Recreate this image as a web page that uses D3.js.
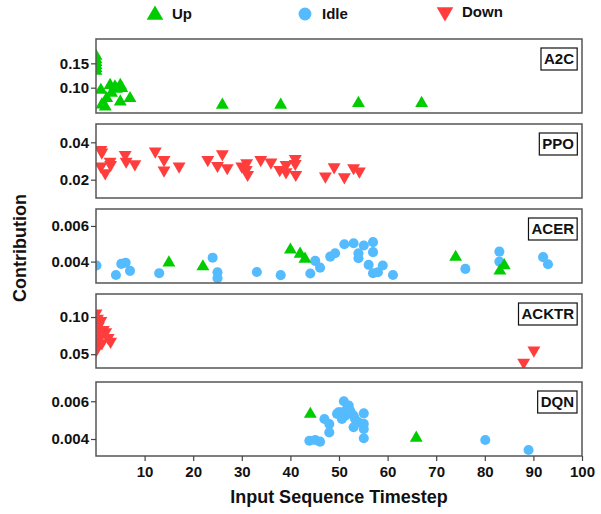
<!DOCTYPE html>
<html>
<head>
<meta charset="utf-8">
<script src="https://cdn.jsdelivr.net/npm/d3@7"></script>
<style>
  body { margin: 0; background: #fff; }
  svg text { font-family: "Liberation Sans", Arial, sans-serif; font-weight: bold; fill: #111; }
</style>
</head>
<body>
<svg id="chart" width="601" height="514"></svg>
<script>
// ---- data ----
let panelNames = ["A2C", "PPO", "ACER", "ACKTR", "DQN"];
let yDomains = [[0.048, 0.2], [0.0102, 0.0498], [0.0028, 0.00695], [0.0314, 0.131], [0.0031, 0.00702]];
let yTicks = [[0.10, 0.15], [0.02, 0.04], [0.004, 0.006], [0.05, 0.10], [0.004, 0.006]];
let xTicks = [10, 20, 30, 40, 50, 60, 70, 80, 90, 100];
let legendItems = ["Up", "Idle", "Down"];

// [timestep, contribution]
let a2cUp = [
  [0, 0.165], [0, 0.158], [0, 0.152], [0, 0.146], [0, 0.14], [0, 0.134],
  [1, 0.095], [1.2, 0.065], [1.9, 0.061], [2.2, 0.078], [2.9, 0.105], [3.2, 0.089],
  [3.9, 0.102], [4.2, 0.097], [5, 0.105], [5, 0.071], [5.3, 0.099], [7, 0.078],
  [26, 0.0645], [38, 0.0645], [54, 0.068], [67, 0.068]
];
let ppoDown = [
  [1, 0.036], [1.2, 0.0347], [1, 0.0272], [1.9, 0.0236], [2.9, 0.0298], [3, 0.028],
  [6, 0.0334], [6.2, 0.0298], [8, 0.0284], [12.2, 0.0352], [14, 0.0307], [14, 0.025],
  [17.1, 0.0272], [23, 0.0307], [25, 0.0275], [26, 0.0337], [27, 0.0263], [30, 0.0272],
  [31, 0.0289], [30.9, 0.0253], [31.2, 0.0227], [33.9, 0.0307], [36, 0.0293], [37.8, 0.0253],
  [39.1, 0.028], [39.1, 0.0241], [41, 0.0312], [41, 0.0286], [41.1, 0.0227], [47.2, 0.0218],
  [49, 0.0268], [51.1, 0.0214], [53, 0.0263], [54.2, 0.0245]
];
let acerIdle = [
  [0.1, 0.00378], [4.1, 0.00325], [5.2, 0.00387], [6.1, 0.00394], [7, 0.00348], [13, 0.00335],
  [24, 0.00422], [25, 0.0034], [25, 0.00307], [33.1, 0.00342], [38, 0.00324], [44.1, 0.00333],
  [45.1, 0.00404], [46.1, 0.00366], [48.2, 0.00428], [49.2, 0.00447], [51.1, 0.00497],
  [53, 0.00503], [54, 0.00447], [54, 0.00419], [55.1, 0.0049], [56.1, 0.00382], [57, 0.00509],
  [57, 0.00453], [57, 0.00335], [58, 0.0034], [59, 0.00378], [61.1, 0.00325], [76, 0.00359],
  [83, 0.00456], [83, 0.004], [92, 0.00425], [93, 0.00385]
];
let acerUp = [
  [15, 0.00394], [22, 0.00372], [40, 0.00466], [42, 0.00443], [43, 0.00415],
  [74, 0.00425], [83.1, 0.00348], [84, 0.00378]
];
let acktrDown = [
  [0, 0.105], [0.3, 0.098], [0, 0.092], [0.5, 0.088], [1, 0.095], [1.5, 0.083],
  [0.2, 0.078], [2, 0.08], [0.8, 0.072], [0, 0.066], [2.5, 0.072], [0.3, 0.06],
  [0, 0.055], [3, 0.067], [1.2, 0.065], [88, 0.039], [90.1, 0.0553]
];
let dqnIdle = [
  [43.9, 0.00391], [45.1, 0.00395], [46.1, 0.00386], [47, 0.00506], [48, 0.00479], [48, 0.00435],
  [49.9, 0.00542], [51, 0.006], [52, 0.00577], [50.3, 0.00542], [51.3, 0.00524], [52.3, 0.0055],
  [53, 0.00524], [50.6, 0.00506], [51.6, 0.00558], [53, 0.00462], [54, 0.00489], [55.1, 0.00536],
  [55.1, 0.0048], [55.1, 0.00453], [55.1, 0.00404], [49.6, 0.00533], [53.3, 0.00506],
  [80.1, 0.00395], [89, 0.00342]
];
let dqnUp = [[44.1, 0.00532], [65.9, 0.00405]];

let panelSeries = [
  [{ kind: "Up", data: a2cUp }],
  [{ kind: "Down", data: ppoDown }],
  [{ kind: "Idle", data: acerIdle }, { kind: "Up", data: acerUp }],
  [{ kind: "Down", data: acktrDown }],
  [{ kind: "Idle", data: dqnIdle }, { kind: "Up", data: dqnUp }]
];

// ---- styles ----
let colors = { Up: "#00cc00", Idle: "#55bbff", Down: "#ff3d3d" };
let left = 96, right = 582, panelH = 74;
let panelTops = [39, 124, 209, 294, 382];

let svg = d3.select("#chart");
let x = d3.scaleLinear().domain([0, 100]).range([left, right]);

function markerPath(kind) {
  if (kind === "Idle") return d3.symbol().type(d3.symbolCircle).size(80)();
  return d3.symbol().type(d3.symbolTriangle).size(72)();
}
function markerTransform(kind, px, py) {
  if (kind === "Down") return "translate(" + px + "," + py + ") rotate(180)";
  return "translate(" + px + "," + py + ")";
}

panelNames.forEach(function (name, i) {
  let top = panelTops[i];
  let y = d3.scaleLinear().domain(yDomains[i]).range([top + panelH, top]);
  let fmt = d3.format(yTicks[i][0] < 0.01 ? ".3f" : ".2f");

  svg.append("clipPath").attr("id", "clip" + i)
    .append("rect").attr("x", left).attr("y", top).attr("width", right - left).attr("height", panelH);

  let g = svg.append("g").attr("clip-path", "url(#clip" + i + ")");
  panelSeries[i].forEach(function (s) {
    g.selectAll(null)
      .data(s.data)
      .join("path")
      .attr("d", markerPath(s.kind))
      .attr("transform", function (d) { return markerTransform(s.kind, x(d[0]), y(d[1])); })
      .attr("fill", colors[s.kind]);
  });

  // frame
  svg.append("rect")
    .attr("x", left).attr("y", top)
    .attr("width", right - left).attr("height", panelH)
    .attr("fill", "none").attr("stroke", "#555").attr("stroke-width", 1.5);

  // y axis
  let ya = svg.append("g")
    .attr("transform", "translate(" + left + ",0)")
    .call(d3.axisLeft(y).tickValues(yTicks[i]).tickFormat(fmt).tickSize(5).tickPadding(2));
  ya.select(".domain").remove();
  ya.selectAll("line").attr("stroke", "#444").attr("stroke-width", 1.2);
  ya.selectAll("text").style("font-size", "15px");

  // panel label box
  let lg = svg.append("g");
  let box = lg.append("rect");
  let lab = lg.append("text")
    .attr("x", right - 8).attr("y", top + 25)
    .attr("text-anchor", "end")
    .style("font-size", "15px")
    .text(name);
  let bb = lab.node().getBBox();
  box.attr("x", bb.x - 3).attr("y", top + 9)
    .attr("width", bb.width + 6).attr("height", 22)
    .attr("fill", "#fff").attr("stroke", "#111").attr("stroke-width", 1.2);

  if (i === panelNames.length - 1) {
    let xa = svg.append("g")
      .attr("transform", "translate(0," + (top + panelH) + ")")
      .call(d3.axisBottom(x).tickValues(xTicks).tickSize(5).tickPadding(5));
    xa.select(".domain").remove();
    xa.selectAll("line").attr("stroke", "#444").attr("stroke-width", 1.2);
    xa.selectAll("text").style("font-size", "15px");
  }
});

// axis titles
svg.append("text")
  .attr("x", 339).attr("y", 503)
  .attr("text-anchor", "middle")
  .style("font-size", "18px")
  .text("Input Sequence Timestep");

svg.append("text")
  .attr("transform", "translate(26,248) rotate(-90)")
  .attr("text-anchor", "middle")
  .style("font-size", "18px")
  .text("Contribution");

// legend
let legendX = [155, 305, 445];
let legendY = [14, 14, 12];
legendItems.forEach(function (k, i) {
  svg.append("path")
    .attr("d", k === "Idle" ? d3.symbol().type(d3.symbolCircle).size(130)() : d3.symbol().type(d3.symbolTriangle).size(120)())
    .attr("transform", markerTransform(k, legendX[i], legendY[i] + (k === "Up" ? 1 : 0)))
    .attr("fill", colors[k]);
  svg.append("text")
    .attr("x", legendX[i] + 17).attr("y", legendY[i] + 5)
    .style("font-size", "15px")
    .text(k);
});
</script>
</body>
</html>
